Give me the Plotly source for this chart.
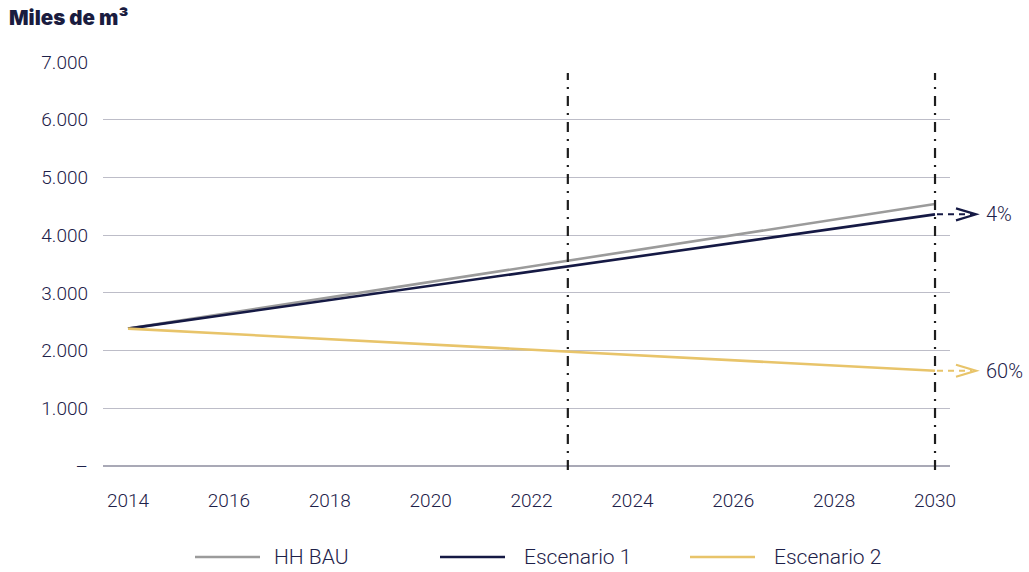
import plotly.graph_objects as go

# Series (thousand m3)
years = [2014, 2030]
hh_bau = [2380, 4540]
escenario_1 = [2380, 4360]
escenario_2 = [2380, 1650]

series_names = ["HH BAU", "Escenario 1", "Escenario 2"]
series_colors = ["#9b9b9b", "#151944", "#e8c46a"]

# Reference years marked with vertical dash-dot lines
ref_years = [2022.72, 2030]

# Reduction labels at the end of the scenarios
reduction_labels = ["4%", "60%"]

y_ticks = [0, 1000, 2000, 3000, 4000, 5000, 6000, 7000]
y_tick_text = ["–", "1.000", "2.000", "3.000", "4.000", "5.000", "6.000", "7.000"]
x_ticks = list(range(2014, 2031, 2))

TEXT = "#1d2149"
FONT = "Roboto"
WEIGHT = 300

W, H = 1029, 572
ML, MR, MT, MB = 103, 79, 62, 106
PW = W - ML - MR
PH = H - MT - MB
X0, X1 = 2013.504, 2030.297


def xpaper(px):
    return (px - ML) / PW


def ypaper(py):
    return (H - MB - py) / PH


fig = go.Figure()
for name, vals, col in zip(series_names, [hh_bau, escenario_1, escenario_2], series_colors):
    fig.add_trace(go.Scatter(x=years, y=vals, mode="lines", name=name,
                             line=dict(color=col, width=2.6), showlegend=False))

shapes = []
for yr in ref_years:
    shapes.append(dict(type="line", xref="x", yref="paper", x0=yr, x1=yr,
                       y0=ypaper(470), y1=ypaper(73),
                       line=dict(color="#1e1e1e", width=2.2, dash="10px,7px,2px,7px")))

annotations = []
# Arrows pointing from the scenario end values to the reduction labels
pix_per_unit = PH / 7000.0
for vals, col, lab in [(escenario_1, series_colors[1], reduction_labels[0]),
                       (escenario_2, series_colors[2], reduction_labels[1])]:
    yv = vals[-1]
    half = 6 / pix_per_unit
    shapes.append(dict(type="line", xref="paper", yref="y",
                       x0=xpaper(937), x1=xpaper(972), y0=yv, y1=yv,
                       line=dict(color=col, width=2, dash="6px,5px")))
    shapes.append(dict(type="path", xref="paper", yref="y",
                       path=f"M {xpaper(956)},{yv + half} L {xpaper(976)},{yv} L {xpaper(956)},{yv - half}",
                       line=dict(color=col, width=2.2)))
    annotations.append(dict(xref="paper", yref="y", x=xpaper(984), y=yv, text=lab,
                            showarrow=False, xanchor="left", yanchor="middle",
                            font=dict(family=FONT, size=20, weight=WEIGHT, color=TEXT)))

# Legend drawn below the plot
legend_y = ypaper(557)
legend_pos = [(195, 260, 272), (440, 505, 522), (690, 755, 772)]
for (lx0, lx1, tx), name, col in zip(legend_pos, series_names, series_colors):
    shapes.append(dict(type="line", xref="paper", yref="paper",
                       x0=xpaper(lx0), x1=xpaper(lx1), y0=legend_y, y1=legend_y,
                       line=dict(color=col, width=2.6)))
    annotations.append(dict(xref="paper", yref="paper", x=xpaper(tx), y=legend_y, text=name,
                            showarrow=False, xanchor="left", yanchor="middle",
                            font=dict(family=FONT, size=21, weight=WEIGHT, color=TEXT)))

# Unit title
annotations.append(dict(xref="paper", yref="paper", x=xpaper(7), y=ypaper(18), text="Miles de m³",
                        showarrow=False, xanchor="left", yanchor="middle",
                        font=dict(family="Inter", size=20.5, weight=900, color="#1a1c3f")))

tick_font = dict(family=FONT, size=19, weight=WEIGHT, color=TEXT)

fig.update_layout(
    width=W, height=H,
    margin=dict(l=ML, r=MR, t=MT, b=MB),
    paper_bgcolor="white", plot_bgcolor="white",
    font=dict(family=FONT, size=19, color=TEXT),
    shapes=shapes, annotations=annotations,
    xaxis=dict(range=[X0, X1], tickmode="array", tickvals=x_ticks,
               ticktext=[str(v) for v in x_ticks], showgrid=False, zeroline=False,
               showline=False, ticks="", ticklabelstandoff=21, tickfont=tick_font),
    yaxis=dict(range=[0, 7000], tickmode="array", tickvals=y_ticks, ticktext=y_tick_text,
               showgrid=True, gridcolor="#bdbdc8", gridwidth=1, zeroline=True,
               zerolinecolor="#a9a9b6", zerolinewidth=1.5, showline=False, ticks="",
               ticklabelstandoff=14, tickfont=tick_font),
)

fig.write_html("out.html")
